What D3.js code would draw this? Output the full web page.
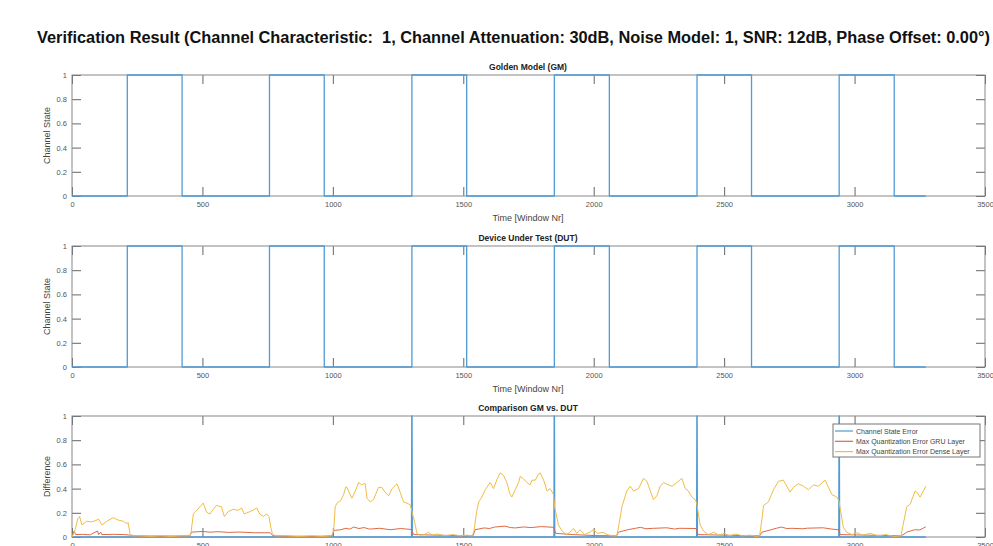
<!DOCTYPE html>
<html>
<head>
<meta charset="utf-8">
<script src="https://cdn.jsdelivr.net/npm/d3@7"></script>
<style>
  body { margin: 0; background: #fff; }
  svg { display: block; font-family: "Liberation Sans", Arial, sans-serif; }
</style>
</head>
<body>
<div id="container"></div>
<script>
var w = 993;
var h = 546;

// ---- data ----
var xTicks = [0, 500, 1000, 1500, 2000, 2500, 3000, 3500];
var yTicks = [0, 0.2, 0.4, 0.6, 0.8, 1];
var lastWindow = 3273;

// window numbers where the channel state toggles (starts at 0)
var gmEdges  = [212, 422, 757, 967, 1303, 1513, 1849, 2060, 2396, 2605, 2941, 3152];
var dutEdges = [212, 422, 757, 967, 1303, 1513, 1849, 2060, 2396, 2605, 2941, 3152];

// windows where GM and DUT disagree
var errorWindows = [1303, 1849, 2396, 2941];

var legendNames = ["Channel State Error", "Max Quantization Error GRU Layer", "Max Quantization Error Dense Layer"];
var colors = ["#4f9bd6", "#e0693f", "#f0bd45"];

// max quantization error, GRU layer
var gruErr = [[0,0],[8,0.05],[14,0.02],[40,0.022],[70,0.018],[98,0.05],[102,0.02],[110,0.04],[114,0.02],[160,0.022],
  [200,0.02],[225,0.015],[240,0.01],[300,0.008],[400,0.008],[452,0.01],[458,0.04],[500,0.046],[530,0.04],[560,0.044],
  [600,0.038],[640,0.041],[700,0.035],[760,0.035],[770,0.01],[850,0.006],[950,0.006],[998,0.01],[1005,0.055],[1030,0.06],
  [1050,0.072],[1065,0.065],[1080,0.082],[1100,0.07],[1120,0.078],[1140,0.065],[1180,0.072],[1220,0.06],[1260,0.07],[1300,0.062],
  [1310,0.02],[1400,0.015],[1500,0.01],[1538,0.012],[1545,0.06],[1580,0.075],[1600,0.07],[1620,0.082],[1660,0.09],[1680,0.078],
  [1700,0.075],[1730,0.083],[1760,0.078],[1800,0.086],[1846,0.08],[1855,0.03],[1920,0.02],[2000,0.012],[2088,0.01],[2095,0.04],
  [2130,0.06],[2160,0.072],[2180,0.08],[2200,0.068],[2230,0.072],[2280,0.076],[2310,0.066],[2330,0.072],[2392,0.07],[2400,0.02],
  [2500,0.015],[2600,0.01],[2636,0.01],[2645,0.04],[2680,0.06],[2700,0.072],[2720,0.082],[2740,0.07],[2760,0.072],[2800,0.068],
  [2820,0.073],[2880,0.076],[2910,0.066],[2938,0.06],[2945,0.02],[3050,0.015],[3180,0.01],[3200,0.04],[3230,0.06],[3250,0.058],
  [3262,0.072],[3273,0.085]];

// max quantization error, dense layer
var denseErr = [[0,0],[12,0.06],[22,0.15],[29,0.17],[38,0.10],[56,0.13],[75,0.125],[96,0.14],[101,0.15],[115,0.10],
  [133,0.13],[158,0.16],[177,0.14],[197,0.13],[210,0.11],[215,0.12],[222,0.03],[230,0.01],[260,0.01],[300,0.005],
  [340,0.01],[380,0.005],[420,0.01],[450,0.01],[456,0.03],[465,0.19],[478,0.22],[490,0.25],[503,0.28],[516,0.205],
  [529,0.19],[542,0.23],[554,0.26],[573,0.25],[584,0.17],[599,0.21],[618,0.23],[637,0.22],[650,0.24],[660,0.19],
  [682,0.21],[701,0.23],[708,0.24],[720,0.19],[733,0.17],[746,0.19],[755,0.17],[762,0.08],[768,0.03],[778,0.01],
  [820,0.01],[870,0.005],[920,0.01],[960,0.005],[995,0.01],[1003,0.05],[1009,0.25],[1016,0.28],[1022,0.29],[1030,0.30],
  [1041,0.35],[1050,0.415],[1054,0.41],[1060,0.38],[1073,0.32],[1086,0.38],[1099,0.45],[1111,0.43],[1118,0.44],[1124,0.44],
  [1131,0.32],[1143,0.29],[1156,0.31],[1175,0.41],[1188,0.41],[1200,0.37],[1214,0.34],[1227,0.40],[1246,0.44],[1258,0.37],
  [1271,0.29],[1284,0.28],[1297,0.265],[1302,0.22],[1316,0.10],[1322,0.03],[1335,0.015],[1350,0.02],[1367,0.04],[1380,0.015],
  [1400,0.025],[1430,0.01],[1460,0.02],[1490,0.01],[1515,0.015],[1535,0.01],[1541,0.05],[1552,0.22],[1559,0.29],[1571,0.33],
  [1584,0.39],[1603,0.45],[1616,0.40],[1630,0.48],[1641,0.53],[1654,0.51],[1667,0.45],[1678,0.36],[1686,0.33],[1699,0.39],
  [1712,0.45],[1718,0.50],[1731,0.48],[1744,0.45],[1756,0.43],[1763,0.47],[1776,0.47],[1788,0.52],[1795,0.53],[1808,0.47],
  [1821,0.38],[1833,0.40],[1846,0.35],[1850,0.25],[1865,0.10],[1878,0.05],[1895,0.02],[1910,0.04],[1923,0.07],[1935,0.03],
  [1948,0.06],[1965,0.02],[1985,0.04],[1999,0.06],[2015,0.03],[2035,0.04],[2051,0.02],[2070,0.01],[2088,0.01],[2095,0.08],
  [2108,0.25],[2127,0.38],[2140,0.42],[2153,0.38],[2172,0.40],[2191,0.485],[2204,0.46],[2217,0.38],[2229,0.31],[2242,0.34],
  [2255,0.42],[2268,0.45],[2287,0.43],[2300,0.42],[2319,0.45],[2338,0.485],[2351,0.40],[2363,0.38],[2376,0.33],[2389,0.31],
  [2395,0.28],[2408,0.10],[2421,0.05],[2440,0.02],[2460,0.04],[2480,0.015],[2500,0.03],[2520,0.01],[2545,0.025],[2570,0.01],
  [2600,0.015],[2625,0.005],[2636,0.01],[2645,0.15],[2651,0.26],[2670,0.29],[2689,0.39],[2708,0.46],[2727,0.47],[2740,0.42],
  [2753,0.37],[2765,0.41],[2784,0.44],[2804,0.42],[2823,0.39],[2842,0.43],[2861,0.42],[2887,0.47],[2900,0.41],[2913,0.35],
  [2932,0.33],[2940,0.30],[2957,0.08],[2970,0.04],[2990,0.02],[3010,0.035],[3030,0.015],[3060,0.03],[3090,0.01],[3120,0.02],
  [3150,0.005],[3178,0.01],[3186,0.10],[3200,0.25],[3213,0.27],[3232,0.38],[3239,0.37],[3251,0.33],[3264,0.38],[3273,0.42]];

// ---- helpers ----
function stepPoints(edges) {
  var pts = [[0, 0]];
  edges.forEach((e, i) => pts.push([e, (i + 1) % 2]));
  pts.push([lastWindow, edges.length % 2]);
  return pts;
}
function spikePoints(wins) {
  var pts = [[0, 0]];
  wins.forEach(e => { pts.push([e - 1, 0], [e, 1], [e + 1, 0]); });
  pts.push([lastWindow, 0]);
  return pts;
}

var svg = d3.select("div#container")
    .append("svg")
    .attr("width", w)
    .attr("height", h)
    .attr("viewBox", "0 0 " + w + " " + h);

var x = d3.scaleLinear().domain([0, 3500]).range([72, 985]);

svg.append("text")
    .attr("x", 37)
    .attr("y", 43)
    .attr("textLength", 953)
    .attr("lengthAdjust", "spacingAndGlyphs")
    .style("font-size", "16px")
    .style("font-weight", "bold")
    .style("white-space", "pre")
    .attr("fill", "#111")
    .text("Verification Result (Channel Characteristic:  1, Channel Attenuation: 30dB, Noise Model: 1, SNR: 12dB, Phase Offset: 0.00°)");

function panel(top, bottom, title, ylabel, xlabel) {
  var y = d3.scaleLinear().domain([0, 1]).range([bottom, top]);
  var g = svg.append("g");

  g.append("g").attr("transform", "translate(0," + bottom + ")")
    .call(d3.axisBottom(x).tickValues(xTicks).tickSize(-9).tickPadding(6).tickFormat(d3.format("d")));
  g.append("g").attr("transform", "translate(0," + top + ")")
    .call(d3.axisTop(x).tickValues(xTicks).tickSize(-9).tickFormat(""));
  g.append("g").attr("transform", "translate(72,0)")
    .call(d3.axisLeft(y).tickValues(yTicks).tickSize(-9).tickPadding(5).tickFormat(d3.format("~g")));
  g.append("g").attr("transform", "translate(985,0)")
    .call(d3.axisRight(y).tickValues(yTicks).tickSize(-9).tickFormat(""));

  g.selectAll(".domain").remove();
  g.selectAll(".tick line").attr("stroke", "#666").attr("stroke-width", 1);
  g.selectAll(".tick text").attr("fill", "#555").style("font-size", "7.5px")
    .style("font-family", "'Liberation Sans', Arial, sans-serif");

  g.append("rect")
    .attr("x", 72).attr("y", top)
    .attr("width", 913).attr("height", bottom - top)
    .attr("fill", "none").attr("stroke", "#888").attr("stroke-width", 1);

  g.append("text")
    .attr("x", 528).attr("y", top - 5)
    .attr("text-anchor", "middle")
    .style("font-size", "8.5px").style("font-weight", "bold")
    .attr("fill", "#222")
    .text(title);

  g.append("text")
    .attr("transform", "translate(50," + (top + bottom) / 2 + ") rotate(-90)")
    .attr("text-anchor", "middle")
    .style("font-size", "9px")
    .attr("fill", "#444")
    .text(ylabel);

  g.append("text")
    .attr("x", 528).attr("y", bottom + 25)
    .attr("text-anchor", "middle")
    .style("font-size", "9px")
    .attr("fill", "#444")
    .text(xlabel);

  return y;
}

function drawLine(y, pts, color, curve, width) {
  var line = d3.line().x(d => x(d[0])).y(d => y(d[1])).curve(curve || d3.curveLinear);
  svg.append("path")
    .datum(pts)
    .attr("fill", "none")
    .attr("stroke", color)
    .attr("stroke-width", width || 1.3)
    .attr("stroke-linejoin", "round")
    .attr("d", line);
}

var y1 = panel(75, 196, "Golden Model (GM)", "Channel State", "Time [Window Nr]");
drawLine(y1, stepPoints(gmEdges), colors[0], d3.curveStepAfter);

var y2 = panel(246, 367, "Device Under Test (DUT)", "Channel State", "Time [Window Nr]");
drawLine(y2, stepPoints(dutEdges), colors[0], d3.curveStepAfter);

var y3 = panel(416, 537, "Comparison GM vs. DUT", "Difference", "Time [Window Nr]");
drawLine(y3, spikePoints(errorWindows), colors[0], d3.curveLinear, 1.6);
drawLine(y3, gruErr, colors[1], d3.curveLinear, 1);
drawLine(y3, denseErr, colors[2], d3.curveLinear, 1);

// legend
var lg = svg.append("g");
lg.append("rect")
    .attr("x", 833).attr("y", 424)
    .attr("width", 147).attr("height", 33)
    .attr("fill", "#fff").attr("stroke", "#777").attr("stroke-width", 1);
legendNames.forEach((name, i) => {
  var ly = 431 + i * 10.3;
  lg.append("line")
    .attr("x1", 835).attr("x2", 853)
    .attr("y1", ly).attr("y2", ly)
    .attr("stroke", colors[i]).attr("stroke-width", 1.2);
  lg.append("text")
    .attr("x", 856).attr("y", ly + 2.5)
    .style("font-size", "7px")
    .attr("fill", "#444")
    .text(name);
});
</script>
</body>
</html>
